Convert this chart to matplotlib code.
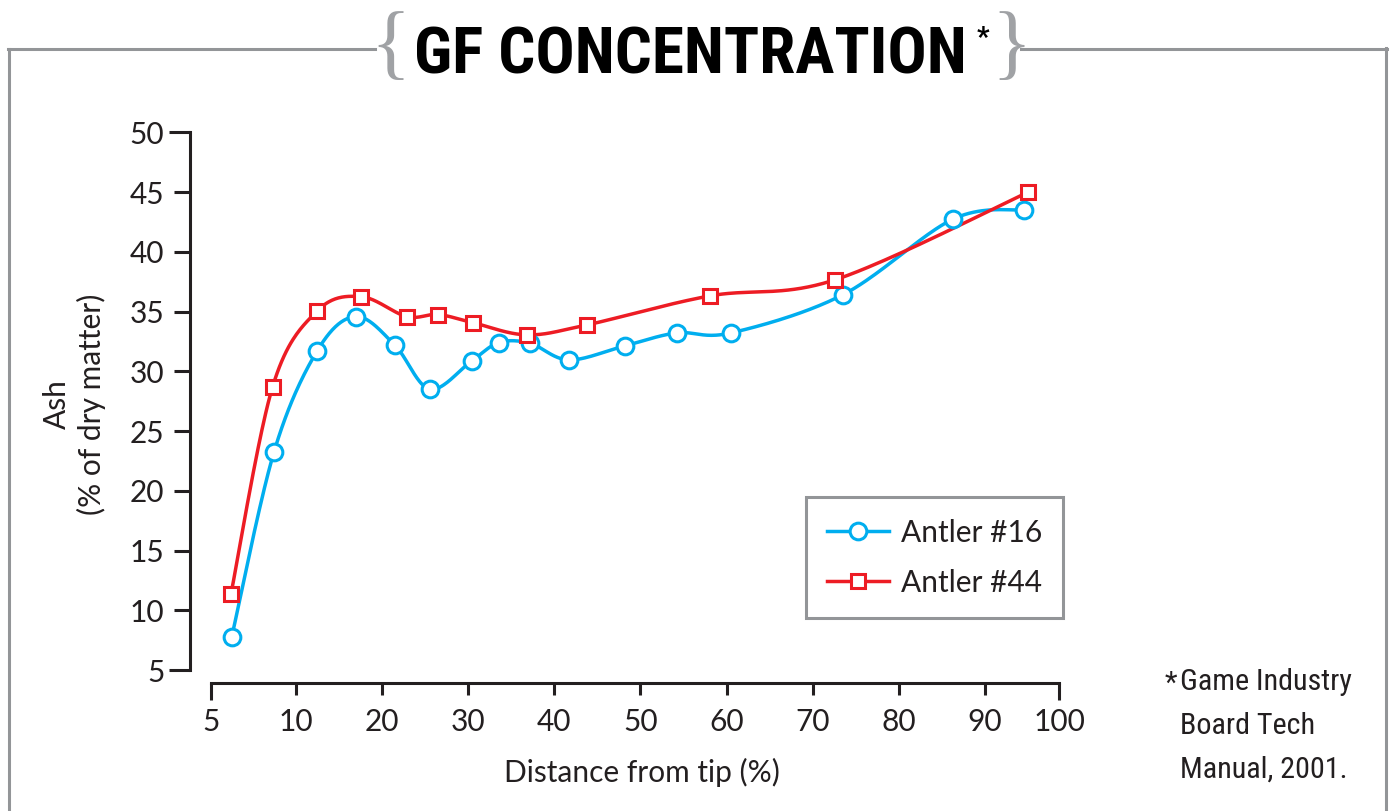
import numpy as np
import matplotlib
matplotlib.use("Agg")
import matplotlib.pyplot as plt
from matplotlib.lines import Line2D
from matplotlib.ticker import FixedLocator, FuncFormatter

# ---------------- data ----------------
x_ticks = [5, 10, 20, 30, 40, 50, 60, 70, 80, 90, 100]
y_ticks = [5, 10, 15, 20, 25, 30, 35, 40, 45, 50]

a16_x = [6.22, 8.72, 12.51, 16.96, 21.48, 25.58, 30.42, 33.58, 37.18, 41.71,
         48.2, 54.23, 60.5, 73.49, 86.29, 95.25]
a16_y = [7.74, 23.26, 31.74, 34.59, 32.22, 28.51, 30.88, 32.41, 32.36, 30.96,
         32.14, 33.22, 33.22, 36.41, 42.75, 43.53]

a44_x = [6.18, 8.64, 12.51, 17.58, 22.88, 26.51, 30.53, 36.8, 43.79, 58.06,
         72.56, 95.83]
a44_y = [11.37, 28.73, 35.07, 36.26, 34.59, 34.76, 34.09, 33.06, 33.89, 36.32,
         37.66, 45.01]

series_names = ["Antler #16", "Antler #44"]
title_text = "GF CONCENTRATION"
x_label = "Distance from tip (%)"
y_label_1 = "Ash"
y_label_2 = "(% of dry matter)"
note_lines = ["Game Industry", "Board Tech", "Manual, 2001."]

# ---------------- style ----------------
W, H = 1391, 811
BLUE = "#00AEEF"
RED = "#ED1C24"
INK = "#231F20"
GRAY = "#939598"
BRACE = "#A0A2A5"
BODY = ["Lato", "DejaVu Sans"]
NARROW = ["Roboto Condensed", "Roboto", "DejaVu Sans"]
FS = 21.5

plt.rcParams["font.family"] = BODY


def fx(px):
    return px / W


def fy(py):
    return 1 - py / H


# piecewise linear x-axis (the printed axis is not evenly spaced at the ends)
XN = np.array([5.0, 10.0, 90.0, 100.0])
UN = np.array([0.0, 0.983, 8.983, 9.845])


def _pw(v, a, b):
    v = np.asarray(v, dtype=float)
    out = np.interp(v, a, b)
    s0 = (b[1] - b[0]) / (a[1] - a[0])
    s1 = (b[-1] - b[-2]) / (a[-1] - a[-2])
    out = np.where(v < a[0], b[0] + (v - a[0]) * s0, out)
    out = np.where(v > a[-1], b[-1] + (v - a[-1]) * s1, out)
    return out


def fwd(v):
    return _pw(v, XN, UN)


def inv(u):
    return _pw(u, UN, XN)


def catmull(xs, ys, n=40):
    u = fwd(np.asarray(xs, float))
    P = np.column_stack([u, np.asarray(ys, float)])
    P = np.vstack([P[0], P, P[-1]])
    t = np.linspace(0, 1, n)[:, None]
    h00 = 2 * t**3 - 3 * t**2 + 1
    h10 = t**3 - 2 * t**2 + t
    h01 = -2 * t**3 + 3 * t**2
    h11 = t**3 - t**2
    pts = []
    for i in range(1, len(P) - 2):
        p0, p1, p2, p3 = P[i - 1], P[i], P[i + 1], P[i + 2]
        m1 = (p2 - p0) / 2
        m2 = (p3 - p1) / 2
        seg = h00 * p1 + h10 * m1 + h01 * p2 + h11 * m2
        pts.append(seg if i == 1 else seg[1:])
    pts = np.vstack(pts)
    return inv(pts[:, 0]), pts[:, 1]


fig = plt.figure(figsize=(W / 100, H / 100), dpi=100)
fig.patch.set_facecolor("white")

ax = fig.add_axes([fx(211), fy(670), (1059.3 - 211) / W, (670 - 132.5) / H])
ax.set_xscale("function", functions=(fwd, inv))
ax.set_xlim(x_ticks[0], x_ticks[-1])
ax.set_ylim(y_ticks[0], y_ticks[-1])

LW = 2.5
MEW = 2.2
MS_O = 12
MS_S = 10.3
cx, cy = catmull(a16_x, a16_y)
ax.plot(cx, cy, color=BLUE, lw=LW, zorder=3, solid_capstyle="round")
ax.plot(a16_x, a16_y, ls="none", marker="o", ms=MS_O, mfc="white", mec=BLUE,
        mew=MEW, zorder=4, clip_on=False)
cx, cy = catmull(a44_x, a44_y)
ax.plot(cx, cy, color=RED, lw=LW, zorder=3, solid_capstyle="round")
ax.plot(a44_x, a44_y, ls="none", marker="s", ms=MS_S, mfc="white", mec=RED,
        mew=MEW, zorder=5, clip_on=False)

for s in ("top", "right"):
    ax.spines[s].set_visible(False)
ax.spines["left"].set_position(("outward", 15))
ax.spines["bottom"].set_position(("outward", 9.4))
for s in ("left", "bottom"):
    ax.spines[s].set_linewidth(2.2)
    ax.spines[s].set_color(INK)
    ax.spines[s].set_capstyle("projecting")

fmt = FuncFormatter(lambda v, p: f"{v:g}")
ax.xaxis.set_major_locator(FixedLocator([x_ticks[0], x_ticks[-1]]))
ax.xaxis.set_minor_locator(FixedLocator(x_ticks[1:-1]))
ax.xaxis.set_major_formatter(fmt)
ax.xaxis.set_minor_formatter(fmt)
ax.yaxis.set_major_locator(FixedLocator([y_ticks[0], y_ticks[-1]]))
ax.yaxis.set_minor_locator(FixedLocator(y_ticks[1:-1]))
ax.yaxis.set_major_formatter(fmt)
ax.yaxis.set_minor_formatter(fmt)

ax.tick_params(axis="x", which="major", length=12.2, width=2.2, pad=5.5,
               labelsize=FS, colors=INK)
ax.tick_params(axis="x", which="minor", length=8.6, width=2.2, pad=9.1,
               labelsize=FS, colors=INK)
ax.tick_params(axis="y", which="major", length=15, width=2.2, pad=3.6,
               labelsize=FS, colors=INK)
ax.tick_params(axis="y", which="minor", length=11.5, width=2.2, pad=7.1,
               labelsize=FS, colors=INK)

# axis labels
fig.text(fx(642), fy(782), x_label, ha="center", va="baseline", fontsize=FS,
         color=INK)
fig.text(fx(66), fy(404), y_label_1, rotation=90, rotation_mode="anchor",
         ha="center", va="baseline", fontsize=FS, color=INK)
fig.text(fx(101), fy(404), y_label_2, rotation=90, rotation_mode="anchor",
         ha="center", va="baseline", fontsize=FS, color=INK)

# legend
handles = [
    Line2D([], [], color=BLUE, lw=LW, marker="o", ms=MS_O, mfc="white",
           mec=BLUE, mew=MEW),
    Line2D([], [], color=RED, lw=LW, marker="s", ms=MS_S, mfc="white",
           mec=RED, mew=MEW),
]
leg = fig.legend(handles, series_names, loc="upper left",
                 bbox_to_anchor=(fx(806), fy(497)), bbox_transform=fig.transFigure,
                 borderaxespad=0, fontsize=FS, handlelength=2.05,
                 handletextpad=0.4, labelspacing=0.75, borderpad=0.72,
                 fancybox=False, framealpha=1, numpoints=1)
leg.get_frame().set_edgecolor(GRAY)
leg.get_frame().set_linewidth(2.2)
for t in leg.get_texts():
    t.set_color(INK)

# outer frame
LWF = 2.2
fig.add_artist(Line2D([fx(8.5), fx(8.5)], [fy(H + 5), fy(49)], color=GRAY,
                      lw=LWF, transform=fig.transFigure))
fig.add_artist(Line2D([fx(7.5), fx(375)], [fy(49), fy(49)], color=GRAY,
                      lw=LWF, transform=fig.transFigure))
fig.add_artist(Line2D([fx(1021), fx(1387)], [fy(49), fy(49)], color=GRAY,
                      lw=LWF, transform=fig.transFigure))
fig.add_artist(Line2D([fx(1386), fx(1386)], [fy(48), fy(H + 5)], color=GRAY,
                      lw=LWF, transform=fig.transFigure))

# title with braces
fig.text(fx(390), fy(49), "{", ha="center", va="center", fontsize=60,
         family=["Liberation Serif", "DejaVu Serif"], color=BRACE)
fig.text(fx(1011), fy(49), "}", ha="center", va="center", fontsize=60,
         family=["Liberation Serif", "DejaVu Serif"], color=BRACE)
fig.text(fx(690), fy(73), title_text, ha="center", va="baseline",
         fontsize=47, family=NARROW, fontweight="bold", color="black")
fig.text(fx(977), fy(46), "*", ha="left", va="baseline", fontsize=20,
         family=NARROW, fontweight="bold", color="black")

# footnote
fig.text(fx(1165), fy(692), "*", ha="left", va="baseline", fontsize=21,
         family=NARROW, color=INK)
for i, line in enumerate(note_lines):
    fig.text(fx(1180), fy(690 + 44 * i), line, ha="left", va="baseline",
             fontsize=21.7, family=NARROW, color=INK)

fig.savefig("out.png", dpi=100)
